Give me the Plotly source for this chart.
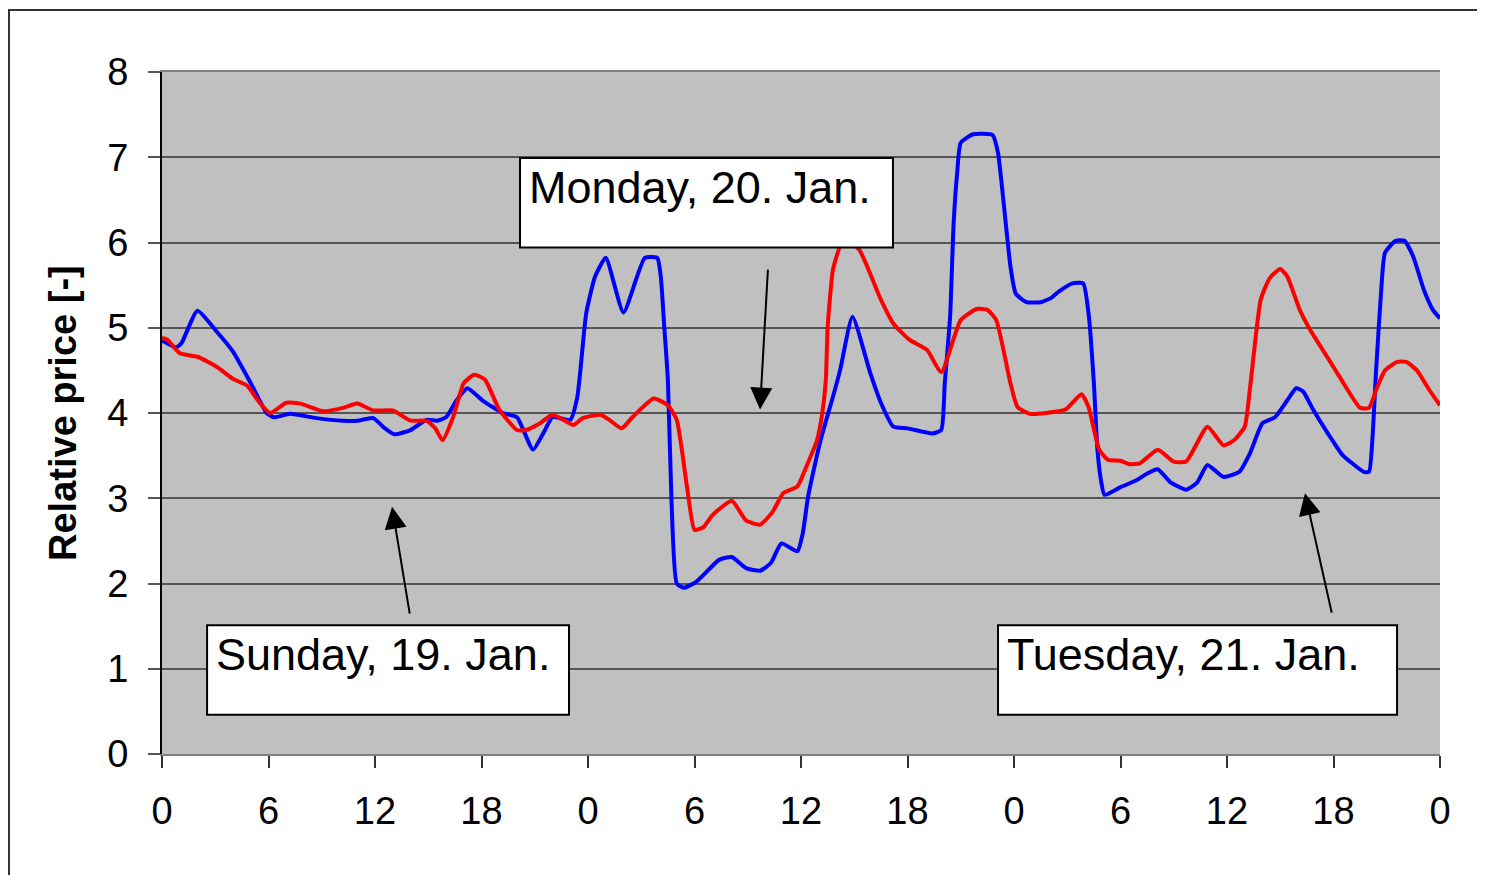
import plotly.graph_objects as go

# hours since Sunday 00:00, relative price
BLUE_H = [0.0, 0.8, 1.1, 2.0, 3.1, 4.0, 5.0, 5.9, 6.3, 7.2, 8.7, 10.2, 11.0, 11.9, 12.5,
          13.1, 14.0, 14.9, 15.5, 16.0, 16.6, 17.2, 18.1, 19.2, 20.0, 20.9, 21.5, 22.0,
          23.0, 23.4, 23.9, 24.4, 25.0, 26.0, 27.2, 27.9, 28.1, 28.3, 28.5, 28.7, 29.0,
          29.4, 30.1, 31.4, 32.1, 32.9, 33.7, 34.3, 34.9, 35.8, 36.1, 36.4, 37.1, 37.8,
          38.2, 38.9, 39.9, 40.5, 41.2, 42.0, 43.4, 43.9, 44.1, 44.4, 44.6, 44.8, 45.0,
          45.7, 46.8, 47.1, 47.4, 47.8, 48.1, 48.7, 49.5, 50.1, 50.5, 51.3, 51.9, 52.2,
          52.5, 52.7, 52.9, 53.1, 54.0, 54.9, 55.5, 56.1, 56.8, 57.7, 58.3, 58.9, 59.8,
          60.7, 61.3, 62.0, 62.7, 63.4, 63.9, 64.3, 64.8, 66.0, 66.5, 67.7, 68.0, 68.2,
          68.4, 68.7, 68.9, 69.5, 70.0, 70.5, 71.1, 71.6, 72.0]
BLUE_V = [4.85, 4.77, 4.82, 5.20, 4.95, 4.72, 4.35, 4.00, 3.95, 3.99, 3.94, 3.91, 3.91, 3.94, 3.83,
          3.75, 3.80, 3.92, 3.91, 3.95, 4.15, 4.29, 4.14, 4.00, 3.95, 3.57, 3.77, 3.95,
          3.92, 4.19, 5.17, 5.60, 5.82, 5.18, 5.82, 5.82, 5.60, 5.00, 4.39, 3.00, 2.00,
          1.95, 2.02, 2.28, 2.31, 2.18, 2.15, 2.24, 2.47, 2.38, 2.59, 3.02, 3.68, 4.19,
          4.50, 5.13, 4.47, 4.12, 3.84, 3.82, 3.76, 3.80, 4.35, 5.13, 6.23, 6.82, 7.17,
          7.27, 7.26, 7.05, 6.50, 5.72, 5.40, 5.30, 5.30, 5.35, 5.42, 5.52, 5.52, 5.17,
          4.35, 3.57, 3.21, 3.04, 3.13, 3.21, 3.29, 3.34, 3.19, 3.10, 3.18, 3.39, 3.25,
          3.31, 3.53, 3.88, 3.95, 4.15, 4.29, 4.25, 4.06, 3.66, 3.51, 3.31, 3.31, 3.72,
          4.50, 5.48, 5.88, 6.02, 6.02, 5.83, 5.44, 5.21, 5.11]

RED_H = [0.0, 0.3, 1.0, 2.0, 3.1, 4.0, 4.8, 5.5, 6.1, 7.0, 7.8, 9.1, 10.2, 11.0, 11.9,
         13.0, 14.0, 14.9, 15.4, 15.8, 16.4, 17.0, 17.6, 18.2, 19.0, 20.0, 20.5, 21.3,
         22.0, 23.2, 23.7, 24.7, 25.2, 25.9, 26.5, 27.7, 28.5, 29.0, 29.6, 30.0, 30.5,
         31.0, 32.1, 32.9, 33.7, 34.4, 35.0, 35.8, 36.3, 36.9, 37.2, 37.4, 37.5, 37.8,
         38.2, 38.6, 39.3, 40.5, 41.2, 42.1, 43.1, 43.9, 45.0, 45.9, 46.5, 47.0, 47.8,
         48.2, 48.9, 49.8, 50.9, 51.8, 52.2, 52.8, 53.3, 54.0, 54.5, 55.1, 56.1, 57.0,
         57.7, 58.9, 59.8, 60.4, 61.0, 61.3, 61.9, 62.4, 63.0, 63.4, 64.1, 64.7, 66.0,
         66.8, 67.5, 68.0, 68.4, 68.9, 69.6, 70.1, 70.7, 71.4, 72.0]
RED_V = [4.88, 4.86, 4.70, 4.66, 4.54, 4.40, 4.32, 4.12, 4.00, 4.12, 4.11, 4.02, 4.06, 4.11, 4.03,
         4.03, 3.91, 3.91, 3.82, 3.68, 3.95, 4.35, 4.45, 4.39, 4.04, 3.80, 3.80, 3.88,
         3.98, 3.86, 3.94, 3.98, 3.92, 3.82, 3.95, 4.17, 4.09, 3.92, 3.10, 2.63, 2.66,
         2.80, 2.97, 2.74, 2.69, 2.84, 3.06, 3.14, 3.37, 3.68, 4.00, 4.39, 5.00, 5.68,
         5.95, 6.03, 5.91, 5.33, 5.05, 4.86, 4.74, 4.48, 5.09, 5.22, 5.21, 5.09, 4.35,
         4.07, 3.99, 4.00, 4.04, 4.22, 4.07, 3.57, 3.45, 3.44, 3.40, 3.41, 3.57, 3.43,
         3.43, 3.84, 3.62, 3.68, 3.84, 4.30, 5.33, 5.58, 5.69, 5.60, 5.21, 4.97, 4.54,
         4.27, 4.06, 4.06, 4.27, 4.50, 4.60, 4.60, 4.50, 4.27, 4.09]

X_TICKS = [0, 6, 12, 18, 24, 30, 36, 42, 48, 54, 60, 66, 72]
X_TICK_TEXT = ["0", "6", "12", "18", "0", "6", "12", "18", "0", "6", "12", "18", "0"]
Y_TICKS = [0, 1, 2, 3, 4, 5, 6, 7, 8]

DAY_LABELS = ["Sunday, 19. Jan.", "Monday, 20. Jan.", "Tuesday, 21. Jan."]

FONT = "'Liberation Sans', Arial, sans-serif"

fig = go.Figure()
fig.add_trace(go.Scatter(x=BLUE_H, y=BLUE_V, mode="lines",
                         line=dict(color="#0000FF", width=4, shape="spline", smoothing=0.5),
                         showlegend=False))
fig.add_trace(go.Scatter(x=RED_H, y=RED_V, mode="lines",
                         line=dict(color="#FF0000", width=4, shape="spline", smoothing=0.5),
                         showlegend=False))

# label boxes (x0, x1, y0, y1 in data units) and arrows (tail -> tip)
boxes = [(2.54, 22.93, 0.46, 1.51), (20.17, 41.18, 5.94, 6.99), (47.10, 69.58, 0.46, 1.51)]
arrows = [((13.97, 1.63), (12.96, 2.90)),
          ((34.14, 5.70), (33.69, 4.04)),
          ((65.92, 1.64), (64.39, 3.06))]

shapes = []
annotations = []
for (x0, x1, y0, y1), label, (tail, tip) in zip(boxes, DAY_LABELS, arrows):
    shapes.append(dict(type="rect", xref="x", yref="y", x0=x0, x1=x1, y0=y0, y1=y1,
                       fillcolor="white", line=dict(color="black", width=2), layer="above"))
    annotations.append(dict(x=x0 + 0.4, y=y1 - 0.02, xref="x", yref="y", text=label,
                            showarrow=False, xanchor="left", yanchor="top",
                            font=dict(family=FONT, size=45, color="black")))
    annotations.append(dict(x=tip[0], y=tip[1], ax=tail[0], ay=tail[1],
                            xref="x", yref="y", axref="x", ayref="y", text="",
                            showarrow=True, arrowhead=2, arrowsize=2.2, arrowwidth=2,
                            arrowcolor="black", standoff=0))

annotations.append(dict(x=-0.0775, y=0.5, xref="paper", yref="paper",
                        xanchor="center", yanchor="middle",
                        text="<b>Relative price [-]</b>", textangle=-90, showarrow=False,
                        font=dict(family=FONT, size=38, color="black")))

# outer chart frame
shapes.append(dict(type="rect", xref="paper", yref="paper", x0=-0.1197, x1=1.2,
                   y0=-0.5, y1=1.091, line=dict(color="#333333", width=2),
                   fillcolor="rgba(0,0,0,0)", layer="below"))

fig.update_layout(
    width=1485, height=875,
    margin=dict(l=154, r=53, t=64, b=129),
    paper_bgcolor="white",
    plot_bgcolor="#C0C0C0",
    font=dict(family=FONT, size=38, color="black"),
    shapes=shapes,
    annotations=annotations,
    xaxis=dict(range=[0, 72], tickvals=X_TICKS, ticktext=X_TICK_TEXT,
               showgrid=False, zeroline=False, showline=True, linecolor="#808080",
               linewidth=2, mirror=True, ticks="outside", ticklen=12, tickwidth=1.5,
               tickcolor="#333333", tickfont=dict(size=38), ticklabelstandoff=10),
    yaxis=dict(range=[0, 8], tickvals=Y_TICKS, showgrid=True, gridcolor="#555555",
               gridwidth=2, zeroline=False, showline=True, linecolor="black",
               linewidth=2, ticks="outside", ticklen=12, tickwidth=1.5,
               tickcolor="#555555", tickfont=dict(size=38), ticklabelstandoff=12),
)

fig.write_html("out.html")
